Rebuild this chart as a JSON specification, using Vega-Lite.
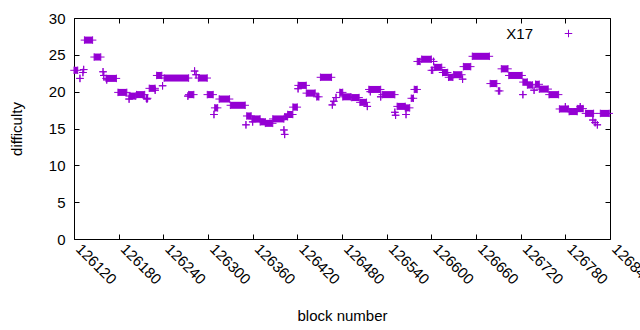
{
  "$schema": "https://vega.github.io/schema/vega-lite/v6.json",
  "autosize": {"type": "none"},
  "width": 536,
  "height": 221,
  "padding": {"left": 74, "top": 18, "right": 30, "bottom": 91},
  "background": "white",
  "view": {"stroke": "black", "strokeWidth": 1},
  "config": {
    "font": "Liberation Sans",
    "axis": {"labelFont": "Liberation Sans", "titleFont": "Liberation Sans", "labelFontSize": 15, "titleFontSize": 15, "titleFontWeight": "normal", "labelColor": "black", "titleColor": "black", "tickColor": "black", "domain": false, "grid": false, "tickSize": -5}
  },
  "data": {"values": [
    {"b":126120,"e":126125,"d":22.9},{"b":126128,"e":126128,"d":21.8},{"b":126132,"e":126132,"d":22.6},{"b":126133,"e":126133,"d":23.0},
    {"b":126134,"e":126145,"d":27.0},{"b":126147,"e":126156,"d":24.7},{"b":126159,"e":126159,"d":22.7},{"b":126160,"e":126160,"d":22.2},
    {"b":126163,"e":126177,"d":21.8},{"b":126164,"e":126164,"d":21.6},{"b":126179,"e":126191,"d":19.9},{"b":126194,"e":126203,"d":19.4},
    {"b":126194,"e":126194,"d":19.0},{"b":126204,"e":126215,"d":19.6},{"b":126217,"e":126219,"d":19.1},{"b":126218,"e":126218,"d":19.0},
    {"b":126221,"e":126229,"d":20.45},{"b":126229,"e":126229,"d":20.2},{"b":126231,"e":126238,"d":22.2},{"b":126239,"e":126239,"d":20.8},
    {"b":126241,"e":126274,"d":21.85},{"b":126274,"e":126281,"d":19.6},{"b":126273,"e":126273,"d":19.4},{"b":126282,"e":126282,"d":22.8},
    {"b":126284,"e":126284,"d":22.3},{"b":126287,"e":126299,"d":21.85},{"b":126299,"e":126307,"d":19.6},{"b":126309,"e":126313,"d":17.8},
    {"b":126308,"e":126308,"d":16.9},{"b":126315,"e":126329,"d":19.0},{"b":126330,"e":126350,"d":18.15},{"b":126352,"e":126358,"d":16.7},
    {"b":126351,"e":126351,"d":15.5},{"b":126359,"e":126370,"d":16.3},{"b":126360,"e":126360,"d":15.9},{"b":126370,"e":126377,"d":15.9},
    {"b":126377,"e":126387,"d":15.7},{"b":126387,"e":126402,"d":16.3},{"b":126403,"e":126407,"d":16.6},{"b":126402,"e":126402,"d":14.8},
    {"b":126403,"e":126403,"d":14.2},{"b":126407,"e":126414,"d":16.9},{"b":126414,"e":126420,"d":17.9},{"b":126421,"e":126432,"d":20.85},
    {"b":126421,"e":126421,"d":20.4},{"b":126432,"e":126444,"d":19.8},{"b":126446,"e":126449,"d":19.3},{"b":126451,"e":126466,"d":21.95},
    {"b":126467,"e":126467,"d":18.2},{"b":126469,"e":126469,"d":18.7},{"b":126472,"e":126472,"d":19.2},{"b":126477,"e":126481,"d":19.9},
    {"b":126481,"e":126492,"d":19.3},{"b":126493,"e":126503,"d":19.2},{"b":126504,"e":126513,"d":18.55},{"b":126514,"e":126514,"d":18.0},
    {"b":126516,"e":126532,"d":20.3},{"b":126518,"e":126518,"d":20.0},{"b":126534,"e":126551,"d":19.6},{"b":126532,"e":126532,"d":19.3},
    {"b":126551,"e":126551,"d":17.2},{"b":126552,"e":126552,"d":16.8},{"b":126554,"e":126565,"d":18.0},{"b":126565,"e":126571,"d":17.8},
    {"b":126566,"e":126566,"d":16.9},{"b":126573,"e":126576,"d":19.1},{"b":126577,"e":126581,"d":20.3},{"b":126581,"e":126585,"d":24.1},
    {"b":126587,"e":126600,"d":24.4},{"b":126603,"e":126603,"d":24.1},{"b":126600,"e":126602,"d":22.9},{"b":126604,"e":126614,"d":23.3},
    {"b":126615,"e":126622,"d":22.6},{"b":126623,"e":126629,"d":21.95},{"b":126630,"e":126641,"d":22.3},{"b":126642,"e":126642,"d":21.7},
    {"b":126643,"e":126653,"d":23.4},{"b":126655,"e":126678,"d":24.8},{"b":126679,"e":126688,"d":21.1},{"b":126690,"e":126692,"d":20.1},
    {"b":126694,"e":126703,"d":23.1},{"b":126704,"e":126722,"d":22.2},{"b":126723,"e":126723,"d":19.6},{"b":126723,"e":126729,"d":21.3},
    {"b":126729,"e":126736,"d":20.9},{"b":126738,"e":126738,"d":20.2},{"b":126740,"e":126745,"d":21.0},{"b":126745,"e":126757,"d":20.35},
    {"b":126758,"e":126771,"d":19.6},{"b":126772,"e":126784,"d":17.65},{"b":126780,"e":126780,"d":17.95},{"b":126785,"e":126796,"d":17.3},
    {"b":126796,"e":126804,"d":17.7},{"b":126800,"e":126800,"d":17.95},{"b":126807,"e":126818,"d":17.05},{"b":126817,"e":126817,"d":16.15},
    {"b":126820,"e":126820,"d":15.8},{"b":126823,"e":126823,"d":15.5},{"b":126827,"e":126839,"d":17.05}
  ]},
  "layer": [
    {
      "mark": {"type": "rule", "strokeWidth": 7, "color": "#9400d3"},
      "encoding": {
        "x": {"field": "b", "type": "quantitative",
          "scale": {"domain": [126120, 126840], "nice": false, "zero": false},
          "axis": {"orient": "bottom", "values": [126120,126180,126240,126300,126360,126420,126480,126540,126600,126660,126720,126780,126840], "format": "d", "labelAngle": 45, "labelAlign": "left", "labelBaseline": "top", "labelPadding": 7, "labelOffset": 9, "labelOverlap": false, "labelFlush": false, "title": "block number", "titlePadding": 22}},
        "x2": {"field": "e"},
        "y": {"field": "d", "type": "quantitative",
          "scale": {"domain": [0, 30], "nice": false, "zero": false},
          "axis": {"orient": "left", "values": [0,5,10,15,20,25,30], "labelPadding": 14, "title": "difficulty", "titlePadding": 24}}
      }
    },
    {
      "mark": {"type": "point", "shape": "M-1,0H1M0,-1V1", "size": 56, "filled": false, "strokeWidth": 1, "opacity": 1},
      "encoding": {
        "x": {"field": "b", "type": "quantitative",
          "axis": {"orient": "top", "values": [126120,126180,126240,126300,126360,126420,126480,126540,126600,126660,126720,126780,126840], "labels": false, "title": null}},
        "y": {"field": "d", "type": "quantitative",
          "axis": {"orient": "right", "values": [0,5,10,15,20,25,30], "labels": false, "title": null}},
        "color": {"datum": "X17", "type": "nominal", "scale": {"range": ["#9400d3"]},
          "legend": {"orient": "none", "legendX": 487, "legendY": 8, "title": null, "padding": 0, "labelFont": "Liberation Sans", "labelFontSize": 15, "labelColor": "black", "symbolType": "M-1,0H1M0,-1V1", "symbolSize": 56, "symbolStrokeWidth": 1, "symbolStrokeColor": "#9400d3", "symbolFillColor": "transparent", "labelAlign": "right", "labelOffset": -43}}
      }
    },
    {
      "mark": {"type": "point", "shape": "M-1,0H1M0,-1V1", "size": 56, "filled": false, "strokeWidth": 1, "opacity": 1},
      "encoding": {
        "x": {"field": "e", "type": "quantitative", "axis": null},
        "y": {"field": "d", "type": "quantitative", "axis": null},
        "color": {"datum": "X17", "type": "nominal"}
      }
    }
  ],
  "resolve": {"axis": {"x": "independent", "y": "independent"}}
}
